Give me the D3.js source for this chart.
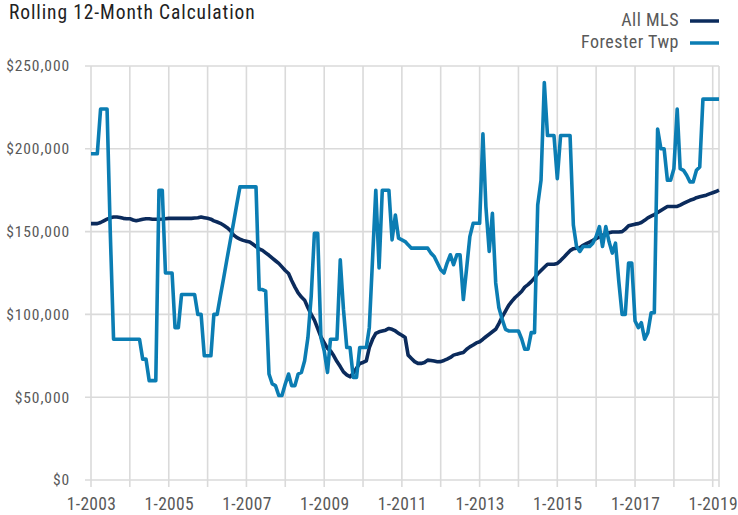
<!DOCTYPE html>
<html>
<head>
<meta charset="utf-8">
<script src="https://cdn.jsdelivr.net/npm/d3@7"></script>
<style>
  html, body { margin: 0; padding: 0; background: #fff; }
  svg { display: block; }
  .lbl { font-family: "Liberation Sans Narrow", "Roboto Condensed", "Liberation Sans", sans-serif; }
</style>
</head>
<body>
<svg id="chart"></svg>
<script>
// rolling 12-month values, in thousands of dollars, one per month from 1-2003
const firstMonth = new Date(2003, 0, 1)

const allMls = [
  154.8, 154.8, 154.8, 155.5, 156.5, 157.5, 158.3, 158.8, 158.8, 158.5, 158, 157.8,
  157.8, 157, 156.6, 157, 157.5, 157.8, 157.8, 157.5, 157.5, 157.5, 157.6, 157.8,
  158, 158, 158, 158, 158, 158, 158, 158, 158.2, 158.4, 158.8, 158.4,
  158, 157.5, 156.5, 155.8, 155, 153.8, 152.5, 150.8, 148, 146.5, 145.5, 144.7,
  144.2, 143.7, 142.5, 141, 139.5, 138.7, 137.2, 135.7, 134, 132.4, 130.8, 128.7,
  126.5, 124.7, 120.5, 116.5, 113, 110.5, 108.6, 104, 100, 96.5, 91.5, 86.4,
  83, 79.5, 78, 75, 71.5, 68.5, 65.3, 63.5, 62.3, 64.5, 67.5, 70.4,
  71, 72, 80, 85, 88.5, 89.5, 90, 90.5, 91.5, 91, 90, 88.5,
  87.4, 86, 75.4, 73.4, 71.5, 70.4, 70.4, 71, 72.4, 72.2, 71.8, 71.4,
  71.5, 72.2, 73, 74, 75.4, 76, 76.5, 77, 79, 80.4, 81.5, 82.8,
  83.5, 85, 86.5, 88, 89.5, 91, 94.5, 98.5, 102, 105.5, 108, 110.2,
  112, 114, 116.5, 118, 119.8, 122, 124.5, 126.5, 128.5, 130.3, 130.3, 130.3,
  130.8, 132.5, 134.3, 136.5, 138.5, 139.7, 140, 140.3, 141.7, 142.7, 143.7, 144.7,
  145.8, 146.8, 147.8, 148.5, 149.3, 149.8, 149.8, 149.8, 150, 151.5, 153.5, 154,
  154.5, 154.8, 155.5, 156.8, 158.3, 159.3, 160.3, 161.5, 162.8, 164, 165.2, 165.2,
  165.2, 165.2, 166, 167, 168, 168.9, 169.5, 170.5, 171, 171.5, 172, 172.8,
  173.5, 174.2, 175
]

const foresterTwp = [
  197, 197, 197, 224, 224, 224, 150, 85, 85, 85, 85, 85,
  85, 85, 85, 85, 73, 73, 60, 60, 60, 175, 175, 125,
  125, 125, 92, 92, 112, 112, 112, 112, 112, 100, 100, 75,
  75, 75, 100, 100, 111, 122, 133, 144, 155, 166, 177, 177,
  177, 177, 177, 177, 115, 115, 114, 64, 58, 57, 51, 51,
  58, 64, 57, 57, 64, 65, 72, 86, 111, 149, 149, 86,
  78, 65, 85, 85, 85, 133, 103, 80, 80, 62, 62, 80,
  80, 80, 92, 134, 175, 128, 175, 175, 175, 145, 160, 146,
  145, 144, 142, 140, 140, 140, 140, 140, 140, 137, 135, 131,
  127, 125, 131, 136, 130, 136, 136, 109, 128, 147, 155, 155,
  155, 209, 165, 138, 161, 119, 104, 97, 91, 90, 90, 90,
  90, 85, 79, 79, 89, 89, 166, 181, 240, 208, 208, 208,
  182, 208, 208, 208, 208, 154, 141, 138, 141, 141, 141, 143,
  147, 153, 141, 153, 144, 137, 143, 120, 100, 100, 131, 131,
  96, 92, 95, 85, 89, 101, 101, 212, 200, 200, 181, 181,
  188, 224, 188, 187, 184, 180, 180, 187, 189, 230, 230, 230,
  230, 230, 230
]

const seriesNames = ["All MLS", "Forester Twp"]
const seriesColors = ["#0b2b5c", "#0b7db3"]
const yTicks = [0, 50000, 100000, 150000, 200000, 250000]
const xTickYears = [2003, 2005, 2007, 2009, 2011, 2013, 2015, 2017, 2019]

const width = 738
const height = 515
const margin = { top: 66, right: 19, bottom: 35, left: 91 }

const months = allMls.map((d, i) => d3.timeMonth.offset(firstMonth, i))
const series = [allMls, foresterTwp].map((vals, k) => ({
  name: seriesNames[k],
  color: seriesColors[k],
  values: vals.map((v, i) => ({ date: months[i], value: v * 1000 }))
}))

const svg = d3.select("#chart").attr("width", width).attr("height", height)

const x = d3.scaleTime()
  .domain([firstMonth, months[months.length - 1]])
  .range([margin.left, width - margin.right])

const y = d3.scaleLinear()
  .domain([0, 250000])
  .range([height - margin.bottom, margin.top])

// grid
const gridColor = "#dadada"
const yearLines = d3.range(2003, 2020).map((yr) => new Date(yr, 0, 1))
yearLines.push(x.domain()[1])

svg.append("g")
  .selectAll("line")
  .data(yTicks)
  .join("line")
  .attr("x1", margin.left - 6)
  .attr("x2", width - margin.right)
  .attr("y1", (d) => y(d))
  .attr("y2", (d) => y(d))
  .attr("stroke", gridColor)
  .attr("stroke-width", 1.6)

svg.append("g")
  .selectAll("line")
  .data(yearLines)
  .join("line")
  .attr("x1", (d) => x(d))
  .attr("x2", (d) => x(d))
  .attr("y1", y(250000))
  .attr("y2", y(0) + 7)
  .attr("stroke", gridColor)
  .attr("stroke-width", 1.6)

// axes (labels only)
const yAxis = svg.append("g")
  .attr("transform", `translate(${margin.left},0)`)
  .call(d3.axisLeft(y).tickValues(yTicks).tickSize(0).tickPadding(21)
    .tickFormat((d) => "$" + d3.format(",")(d)))
yAxis.select(".domain").remove()
yAxis.selectAll("text")
  .attr("class", "lbl")
  .attr("fill", "#595959")
  .style("font-size", "15.5px")
  .style("letter-spacing", "0.9px")

const xAxis = svg.append("g")
  .attr("transform", `translate(0,${y(0)})`)
  .call(d3.axisBottom(x).tickValues(xTickYears.map((yr) => new Date(yr, 0, 1)))
    .tickSize(0).tickPadding(18)
    .tickFormat((d) => "1-" + d.getFullYear()))
xAxis.select(".domain").remove()
xAxis.selectAll("text")
  .attr("class", "lbl")
  .attr("fill", "#595959")
  .style("font-size", "17.5px")
  .style("letter-spacing", "0.3px")

// lines
const line = d3.line()
  .x((d) => x(d.date))
  .y((d) => y(d.value))

svg.append("g")
  .selectAll("path")
  .data(series)
  .join("path")
  .attr("d", (d) => line(d.values))
  .attr("fill", "none")
  .attr("stroke", (d) => d.color)
  .attr("stroke-width", 3.6)
  .attr("stroke-linejoin", "round")

// title
svg.append("text")
  .attr("class", "lbl")
  .attr("x", 9)
  .attr("y", 18.5)
  .attr("fill", "#222")
  .style("font-size", "19.5px")
  .style("letter-spacing", "0.9px")
  .text("Rolling 12-Month Calculation")

// legend
const legend = svg.append("g")
  .selectAll("g")
  .data(series)
  .join("g")
  .attr("transform", (d, i) => `translate(0,${21 + i * 22})`)

legend.append("text")
  .attr("class", "lbl")
  .attr("x", 679)
  .attr("y", 4.5)
  .attr("text-anchor", "end")
  .attr("fill", "#595959")
  .style("font-size", "18px")
  .style("letter-spacing", "0.5px")
  .text((d) => d.name)

legend.append("line")
  .attr("x1", 690)
  .attr("x2", 719)
  .attr("stroke", (d) => d.color)
  .attr("stroke-width", 3.5)
</script>
</body>
</html>
